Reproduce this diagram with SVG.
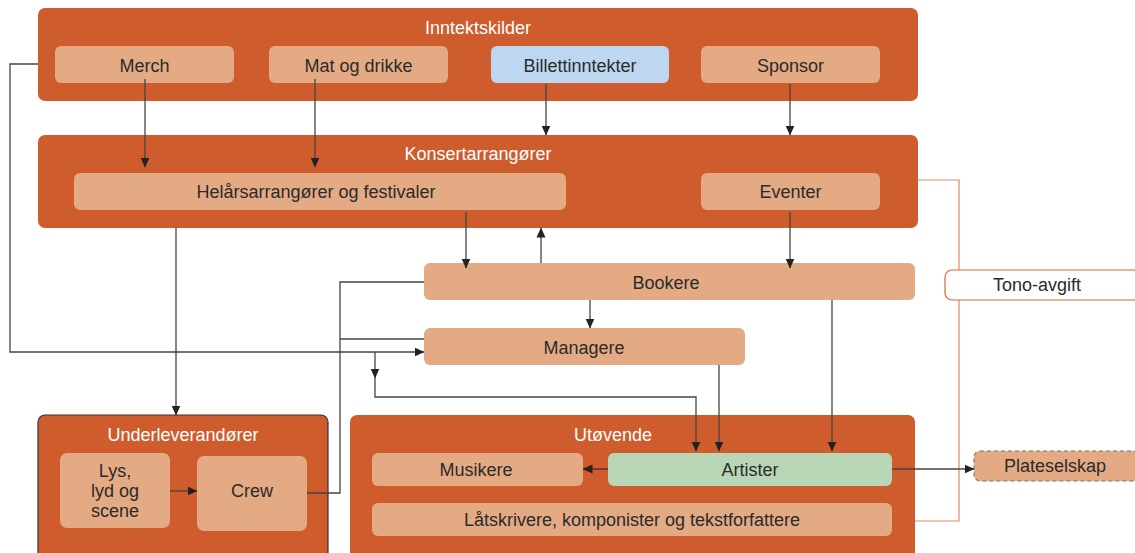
<svg xmlns="http://www.w3.org/2000/svg" width="1135" height="553" viewBox="0 0 1135 553">
<defs>
<style>
.cont{fill:#cf5c2d;}
.box{fill:#e3aa84;}
.t{font-family:"Liberation Sans",Arial,sans-serif;font-size:18px;fill:#2b2b2b;text-anchor:middle;}
.tw{font-family:"Liberation Sans",Arial,sans-serif;font-size:18px;fill:#ffffff;text-anchor:middle;}
.ln{fill:none;stroke:#444;stroke-width:1.3;}
.la{fill:none;stroke:#444;stroke-width:1.3;marker-end:url(#arr);}
</style>
<marker id="arr" viewBox="0 0 10 10" refX="9.5" refY="5" markerWidth="10" markerHeight="10" markerUnits="userSpaceOnUse" orient="auto">
<path d="M0,0.5 L10,5 L0,9.5 z" fill="#222"/>
</marker>
<marker id="arrb" viewBox="0 0 10 10" refX="9.5" refY="5" markerWidth="10" markerHeight="10" markerUnits="userSpaceOnUse" orient="auto">
<path d="M0,0.5 L10,5 L0,9.5 z" fill="#2a211d"/>
</marker>
</defs>
<rect width="1135" height="553" fill="#ffffff"/>

<g id="inntektskilder">
<rect class="cont" x="38" y="8" width="880" height="93" rx="7"/>
<text class="tw" x="478" y="33.5">Inntektskilder</text>
</g>
<g id="merch"><rect class="box" x="55" y="46" width="179" height="37" rx="6"/><text class="t" x="144.5" y="72">Merch</text></g>
<g id="mat"><rect class="box" x="269" y="46" width="179" height="37" rx="6"/><text class="t" x="358.5" y="72">Mat og drikke</text></g>
<g id="billett"><rect x="491" y="46" width="178" height="37" rx="6" fill="#bdd7f1"/><text class="t" x="580" y="72">Billettinntekter</text></g>
<g id="sponsor"><rect class="box" x="701" y="46" width="179" height="37" rx="6"/><text class="t" x="790.5" y="72">Sponsor</text></g>

<g id="konsert">
<rect class="cont" x="38" y="135" width="880" height="93" rx="7"/>
<text class="tw" x="478" y="160">Konsertarrangører</text>
</g>
<g id="helaars"><rect class="box" x="74" y="173" width="492" height="37" rx="6"/><text class="t" x="316" y="198">Helårsarrangører og festivaler</text></g>
<g id="eventer"><rect class="box" x="701" y="173" width="179" height="37" rx="6"/><text class="t" x="790.5" y="198">Eventer</text></g>

<g id="connectors-back">
<path fill="none" stroke="#e08a62" stroke-width="1.2" d="M918,180 H959 V521 H915"/>
</g>

<g id="bookere"><rect class="box" x="424" y="263" width="491" height="37" rx="6"/><text class="t" x="666" y="289">Bookere</text></g>
<g id="managere"><rect class="box" x="424" y="328" width="321" height="37" rx="6"/><text class="t" x="584" y="354">Managere</text></g>
<g id="tono"><rect x="945" y="270" width="195" height="30" rx="7" fill="#ffffff" stroke="#d9663a" stroke-width="1.2"/><text class="t" x="1037" y="291">Tono-avgift</text></g>

<g id="underleverandorer">
<rect class="cont" x="38" y="415" width="290" height="150" rx="7" stroke="#333" stroke-width="1.2"/>
<text class="tw" x="183" y="441">Underleverandører</text>
</g>
<g id="lys"><rect class="box" x="60" y="453" width="110" height="75" rx="7"/>
<text class="t" x="115" y="477">Lys,</text><text class="t" x="115" y="497">lyd og</text><text class="t" x="115" y="517">scene</text></g>
<g id="crew"><rect class="box" x="197" y="456" width="110" height="75" rx="7"/><text class="t" x="252" y="497">Crew</text></g>

<g id="utovende">
<rect class="cont" x="350" y="415" width="565" height="150" rx="7"/>
<text class="tw" x="613" y="441">Utøvende</text>
</g>
<g id="musikere"><rect class="box" x="372" y="453" width="211" height="33" rx="6"/><text class="t" x="476" y="475.5">Musikere</text></g>
<g id="artister"><rect x="608" y="453" width="284" height="33" rx="6" fill="#b9d7b7"/><text class="t" x="750" y="475.5">Artister</text></g>
<g id="latskrivere"><rect class="box" x="372" y="503" width="520" height="33" rx="6"/><text class="t" x="632" y="525.5">Låtskrivere, komponister og tekstforfattere</text></g>
<g id="plateselskap"><rect class="box" x="974" y="451" width="165" height="30" rx="6" stroke="#7a7068" stroke-width="1.1" stroke-dasharray="4,3"/><text class="t" x="1055" y="472">Plateselskap</text></g>

<g id="connectors">
<path class="la" d="M145,79 V167"/>
<path class="la" d="M315,79 V167"/>
<path class="la" d="M546,84 V135"/>
<path class="la" d="M790,84 V135"/>
<path class="la" d="M38,64 H10 V352 H424"/>
<path class="la" d="M176,228 V415"/>
<path class="la" d="M466,212 V268"/>
<path class="la" d="M541,263 V228"/>
<path class="la" d="M790,212 V268"/>
<path class="la" d="M590,300 V328"/>
<path class="ln" d="M307,493 H340 V282 H424"/>
<path class="ln" d="M340,339 H424"/>
<path class="la" d="M375,352 V378"/>
<path class="la" d="M375,378 V397 H696 V451"/>
<path class="la" d="M719,365 V451"/>
<path class="la" d="M832,300 V451"/>
<path class="la" d="M892,469 H974"/>
<path class="la" d="M170,491 H197"/>
<path fill="none" stroke="#5a3020" stroke-width="1.5" marker-end="url(#arrb)" d="M608,469 H583"/>
</g>
</svg>
